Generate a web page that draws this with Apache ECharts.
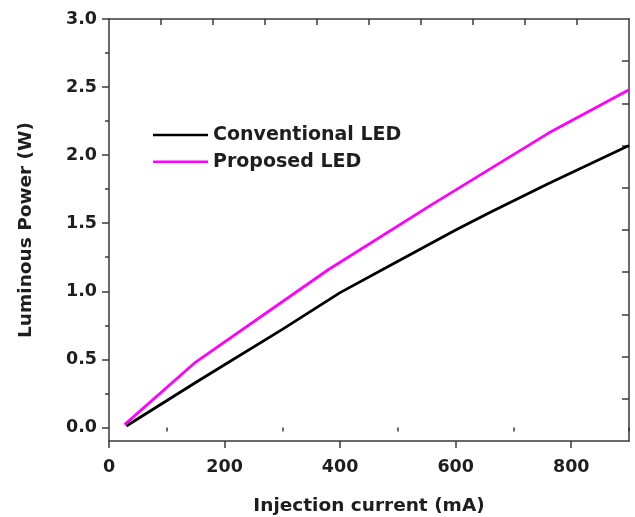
<!DOCTYPE html>
<html>
<head>
<meta charset="utf-8">
<script src="https://cdn.jsdelivr.net/npm/echarts@6/dist/echarts.min.js"></script>
<style>html,body{margin:0;padding:0;background:#fff}#c{width:635px;height:517px}</style>
</head>
<body>
<div id="c"></div>
<script>
// Data
var seriesNames = ['Conventional LED', 'Proposed LED'];
var convX = [30, 150, 200, 300, 400, 500, 600, 660, 760, 900];
var convY = [0.01, 0.33, 0.46, 0.72, 0.99, 1.22, 1.45, 1.58, 1.79, 2.07];
var propX = [27, 150, 380, 560, 760, 900];
var propY = [0.02, 0.48, 1.16, 1.64, 2.16, 2.48];
var xTickLabels = [0, 200, 400, 600, 800];
var xMinorTicks = [100, 300, 500, 700, 900];
var yTickLabels = [0.0, 0.5, 1.0, 1.5, 2.0, 2.5, 3.0];
var yMinorTicks = [0.25, 0.75, 1.25, 1.75, 2.25, 2.75];
var xTopTicks = [90, 180, 270, 360, 450, 540, 630, 720, 810];
var yRightTicks = [0.21, 0.52, 0.83, 1.14, 1.45, 1.76, 2.07, 2.38, 2.69];
var xRange = [0, 900];
var yRange = [-0.1, 3.0];

function pairs(xs, ys) { return xs.map(function (x, i) { return [x, ys[i]]; }); }

var FONT = 'DejaVu Sans';
var axisColor = '#3a3a3a';
var txtColor = '#1e1e1e';
var colors = ['#000000', '#ff00ff'];

var chart = echarts.init(document.getElementById('c'), null, { renderer: 'canvas' });
var hiddenLine = { show: false };
chart.setOption({
  animation: false,
  backgroundColor: '#fff',
  grid: { left: 109, right: 6, top: 19, bottom: 76, containLabel: false, outerBoundsMode: 'none' },
  legend: {
    orient: 'vertical', left: 153, top: 125, padding: 0,
    icon: 'rect', itemWidth: 55, itemHeight: 2.6, itemGap: 6.7,
    textStyle: { fontFamily: FONT, fontWeight: 'bold', fontSize: 19, color: txtColor, lineHeight: 20 },
    data: seriesNames
  },
  xAxis: [
    {
      type: 'value', position: 'bottom', min: xRange[0], max: xRange[1],
      name: 'Injection current (mA)', nameLocation: 'middle', nameGap: 56,
      nameTextStyle: { fontFamily: FONT, fontWeight: 'bold', fontSize: 18.5, color: txtColor },
      axisLine: { show: true, onZero: false, lineStyle: { color: axisColor, width: 1.5 } },
      axisTick: { show: true, inside: false, length: 7, customValues: xTickLabels, lineStyle: { color: axisColor, width: 1.5 } },
      axisLabel: { show: true, customValues: xTickLabels, margin: 17, fontFamily: FONT, fontWeight: 'bold', fontSize: 17.5, color: txtColor },
      splitLine: { show: false }
    },
    {
      type: 'value', position: 'bottom', min: xRange[0], max: xRange[1],
      axisLine: hiddenLine,
      axisTick: { show: true, inside: false, length: 4, customValues: xMinorTicks, lineStyle: { color: axisColor, width: 1.5 } },
      axisLabel: { show: false }, splitLine: { show: false }
    },
    {
      type: 'value', position: 'top', min: xRange[0], max: xRange[1],
      axisLine: { show: true, onZero: false, lineStyle: { color: axisColor, width: 1.5 } },
      axisTick: { show: true, inside: true, length: 6, customValues: xTopTicks, lineStyle: { color: axisColor, width: 1.5 } },
      axisLabel: { show: false }, splitLine: { show: false }
    }
  ],
  yAxis: [
    {
      type: 'value', position: 'left', min: yRange[0], max: yRange[1],
      name: 'Luminous Power (W)', nameLocation: 'middle', nameGap: 73,
      nameTextStyle: { fontFamily: FONT, fontWeight: 'bold', fontSize: 18.5, color: txtColor },
      axisLine: { show: true, onZero: false, lineStyle: { color: axisColor, width: 1.5 } },
      axisTick: { show: true, inside: false, length: 7, customValues: yTickLabels, lineStyle: { color: axisColor, width: 1.5 } },
      axisLabel: { show: true, customValues: yTickLabels, margin: 12, fontFamily: FONT, fontWeight: 'bold', fontSize: 17.5, color: txtColor,
        formatter: function (v) { return v.toFixed(1); } },
      splitLine: { show: false }
    },
    {
      type: 'value', position: 'left', min: yRange[0], max: yRange[1],
      axisLine: hiddenLine,
      axisTick: { show: true, inside: false, length: 4, customValues: yMinorTicks, lineStyle: { color: axisColor, width: 1.5 } },
      axisLabel: { show: false }, splitLine: { show: false }
    },
    {
      type: 'value', position: 'right', min: yRange[0], max: yRange[1],
      axisLine: { show: true, onZero: false, lineStyle: { color: axisColor, width: 1.5 } },
      axisTick: { show: true, inside: true, length: 7, customValues: yRightTicks, lineStyle: { color: axisColor, width: 1.5 } },
      axisLabel: { show: false }, splitLine: { show: false }
    }
  ],
  series: [
    {
      name: seriesNames[0], type: 'line', xAxisIndex: 0, yAxisIndex: 0,
      data: pairs(convX, convY), symbol: 'none', showSymbol: false,
      lineStyle: { color: colors[0], width: 2.8 }, itemStyle: { color: colors[0] }
    },
    {
      name: seriesNames[1], type: 'line', xAxisIndex: 0, yAxisIndex: 0,
      data: pairs(propX, propY), symbol: 'none', showSymbol: false,
      lineStyle: { color: colors[1], width: 2.8 }, itemStyle: { color: colors[1] }
    }
  ]
});
</script>
</body>
</html>
